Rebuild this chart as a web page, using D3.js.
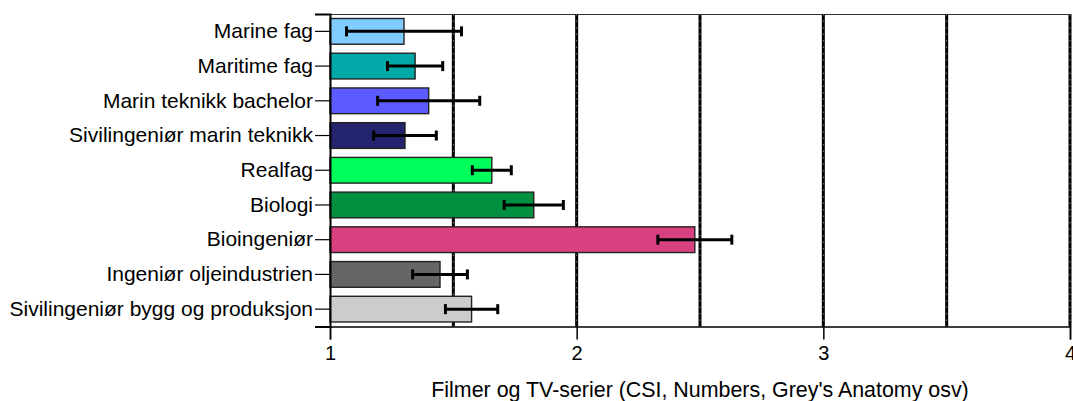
<!DOCTYPE html>
<html>
<head>
<meta charset="utf-8">
<script src="https://cdn.jsdelivr.net/npm/d3@7"></script>
<style>
  html, body { margin: 0; padding: 0; background: #fff; }
  svg { display: block; }
  text { font-family: "Liberation Sans", Arial, sans-serif; fill: #000; }
</style>
</head>
<body>
<svg id="chart" width="1073" height="401"></svg>
<script>
const categories = [
  "Marine fag",
  "Maritime fag",
  "Marin teknikk bachelor",
  "Sivilingeniør marin teknikk",
  "Realfag",
  "Biologi",
  "Bioingeniør",
  "Ingeniør oljeindustrien",
  "Sivilingeniør bygg og produksjon"
];
const means = [1.30, 1.345, 1.40, 1.304, 1.656, 1.826, 2.479, 1.446, 1.574];
const errors = [0.233, 0.112, 0.207, 0.127, 0.079, 0.12, 0.15, 0.111, 0.106];
const colors = ["#80CCFF", "#00A8A8", "#5B5BFF", "#24246E", "#00FF5A", "#009040", "#D94080", "#666666", "#CCCCCC"];
const xTicks = [1, 2, 3, 4];
const gridValues = [1.5, 2, 2.5, 3, 3.5, 4];
const xTitle = "Filmer og TV-serier (CSI, Numbers, Grey's Anatomy osv)";

const svg = d3.select("#chart");
const m = { left: 330, right: 1070, top: 14, bottom: 326.5 };

const x = d3.scaleLinear().domain([1, 4]).range([m.left, m.right]);
const y = d3.scaleBand().domain(categories).range([m.top, m.bottom]).paddingInner(0.26).paddingOuter(0.13);

// top border
svg.append("line")
  .attr("x1", m.left).attr("x2", m.right)
  .attr("y1", m.top + 0.5).attr("y2", m.top + 0.5)
  .attr("stroke", "#333").attr("stroke-width", 1.2);

// grid lines
const g = svg.append("g");
g.selectAll("line.grid").data(gridValues).join("line")
  .attr("class", "grid")
  .attr("x1", d => x(d)).attr("x2", d => x(d))
  .attr("y1", m.top).attr("y2", m.bottom)
  .attr("stroke", "#000").attr("stroke-width", 3);
g.selectAll("line.griddot").data(gridValues).join("line")
  .attr("class", "griddot")
  .attr("x1", d => x(d)).attr("x2", d => x(d))
  .attr("y1", m.top).attr("y2", m.bottom)
  .attr("stroke", "#999").attr("stroke-width", 0.8)
  .attr("stroke-dasharray", "1.5,5");

// bars
svg.selectAll("rect.bar").data(categories).join("rect")
  .attr("class", "bar")
  .attr("x", x(1))
  .attr("y", d => y(d))
  .attr("width", (d, i) => x(means[i]) - x(1))
  .attr("height", y.bandwidth())
  .attr("fill", (d, i) => colors[i])
  .attr("stroke", "#222")
  .attr("stroke-width", 1.4);

// error bars
const eb = svg.append("g");
categories.forEach((c, i) => {
  const cy = y(c) + y.bandwidth() / 2;
  const lo = x(means[i] - errors[i]), hi = x(means[i] + errors[i]);
  eb.append("line").attr("x1", lo).attr("x2", hi).attr("y1", cy).attr("y2", cy)
    .attr("stroke", "#000").attr("stroke-width", 3);
  [lo, hi].forEach(px => {
    eb.append("line").attr("x1", px).attr("x2", px).attr("y1", cy - 5).attr("y2", cy + 5)
      .attr("stroke", "#000").attr("stroke-width", 3);
  });
});

// x axis
const xAxis = d3.axisBottom(x).tickValues(xTicks).tickFormat(d3.format("d")).tickSize(13).tickPadding(6);
const xg = svg.append("g").attr("transform", `translate(0,${m.bottom})`).call(xAxis);
xg.select(".domain").attr("stroke", "#000").attr("stroke-width", 1.5);
xg.selectAll(".tick line").attr("stroke", "#000").attr("stroke-width", 1.5);
xg.selectAll(".tick text").attr("font-size", 20).attr("font-family", "Liberation Sans, Arial, sans-serif");

// y axis
const yAxis = d3.axisLeft(y).tickSize(15).tickPadding(2);
const yg = svg.append("g").attr("transform", `translate(${m.left},0)`).call(yAxis);
yg.select(".domain").attr("stroke", "#000").attr("stroke-width", 2);
yg.selectAll(".tick line").attr("stroke", "#000").attr("stroke-width", 1.2);
yg.selectAll(".tick text").attr("font-size", 21).attr("font-family", "Liberation Sans, Arial, sans-serif");

// x title
svg.append("text")
  .attr("x", 700).attr("y", 397)
  .attr("text-anchor", "middle")
  .attr("font-size", 21.4)
  .text(xTitle);
</script>
</body>
</html>
